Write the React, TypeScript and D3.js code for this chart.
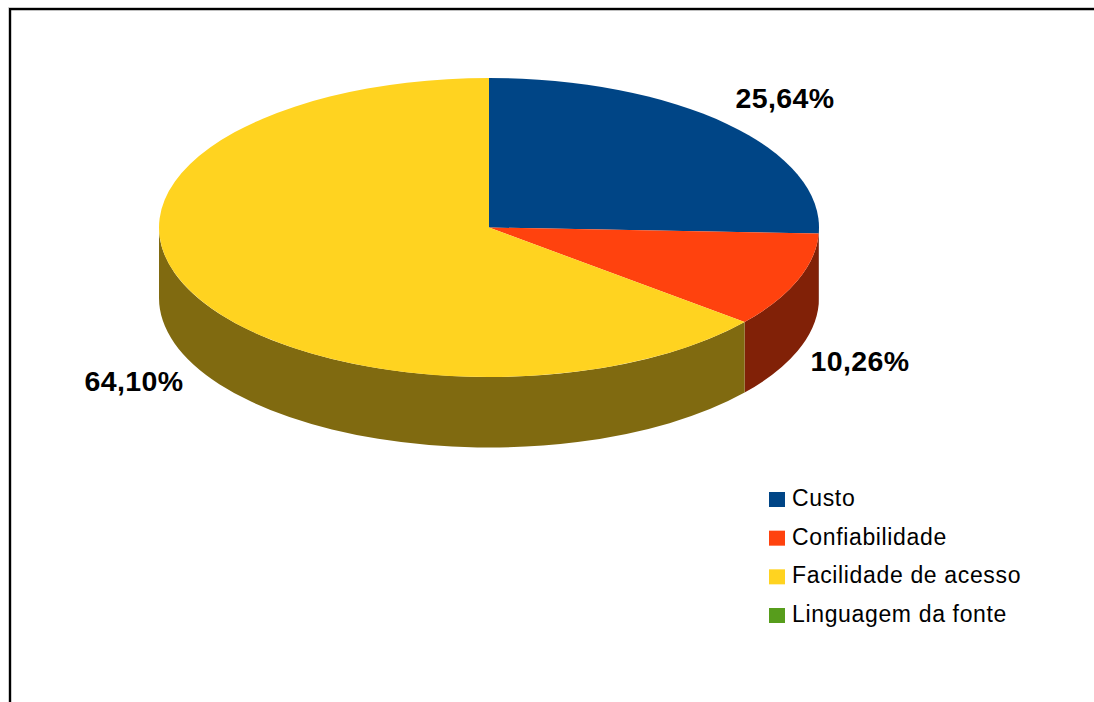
import React from 'react';
import * as d3 from 'd3';

const categories = ['Custo', 'Confiabilidade', 'Facilidade de acesso', 'Linguagem da fonte'];
const values = [25.64, 10.26, 64.1, 0];
const colors = ['#004586', '#ff420e', '#ffd320', '#579d1c'];
const sideColors = ['#002343', '#812107', '#806a10', '#2c4f0e'];
const labels = ['25,64%', '10,26%', '64,10%', ''];

const width = 1094;
const height = 702;
const cx = 489;
const cy = 227.5;
const rx = 330;
const ry = 149.5;
const depth = 70.5;
const labelPos: [number, number][] = [[785, 108], [860, 371], [134, 391]];

const font = '"Liberation Sans", Arial, sans-serif';

export default function App() {
  const slices = d3.pie<number>().sort(null)(values);
  const topArc = d3.arc<any>().innerRadius(0).outerRadius(rx);
  const px = (a: number) => cx + rx * Math.sin(a);
  const py = (a: number) => cy - ry * Math.cos(a);

  // outer wall, only the part facing the viewer (between 90 and 270 degrees)
  const wall = (s: d3.PieArcDatum<number>) => {
    const a0 = Math.max(s.startAngle, Math.PI / 2);
    const a1 = Math.min(s.endAngle, (3 * Math.PI) / 2);
    if (a1 <= a0) return null;
    return `M${px(a0)},${py(a0)}A${rx},${ry} 0 0 1 ${px(a1)},${py(a1)}` +
      `L${px(a1)},${py(a1) + depth}A${rx},${ry} 0 0 0 ${px(a0)},${py(a0) + depth}Z`;
  };

  const legendY = d3.scalePoint<string>().domain(categories).range([499, 615]);

  return (
    <svg width={width} height={height} style={{ position: 'absolute', left: 0, top: 0, display: 'block', background: '#fff' }}>
      <path d={`M10,${height}V9H${width}`} fill="none" stroke="#000" strokeWidth={2.4} />
      <path d={`M8.5,${height}V7.5H${width}`} fill="none" stroke="#ccc" strokeWidth={1} />

      {slices.map((s, i) => {
        const d = wall(s);
        return d ? <path key={i} d={d} fill={sideColors[i]} /> : null;
      })}
      {slices.map((s, i) => (
        <path
          key={i}
          d={topArc(s) as string}
          fill={colors[i]}
          transform={`translate(${cx},${cy}) scale(1,${ry / rx})`}
        />
      ))}

      {labelPos.map((p, i) => (
        <text key={i} x={p[0]} y={p[1]} textAnchor="middle" fontFamily={font} fontWeight="bold" fontSize={28.5} letterSpacing={0.4} fill="#000">
          {labels[i]}
        </text>
      ))}

      {categories.map((c, i) => (
        <g key={c}>
          <rect x={769} y={(legendY(c) as number) - 7} width={16} height={15} fill={colors[i]} />
          <text x={792} y={(legendY(c) as number) + 7} fontFamily={font} fontSize={23} letterSpacing={0.65} fill="#000">
            {c}
          </text>
        </g>
      ))}
    </svg>
  );
}
